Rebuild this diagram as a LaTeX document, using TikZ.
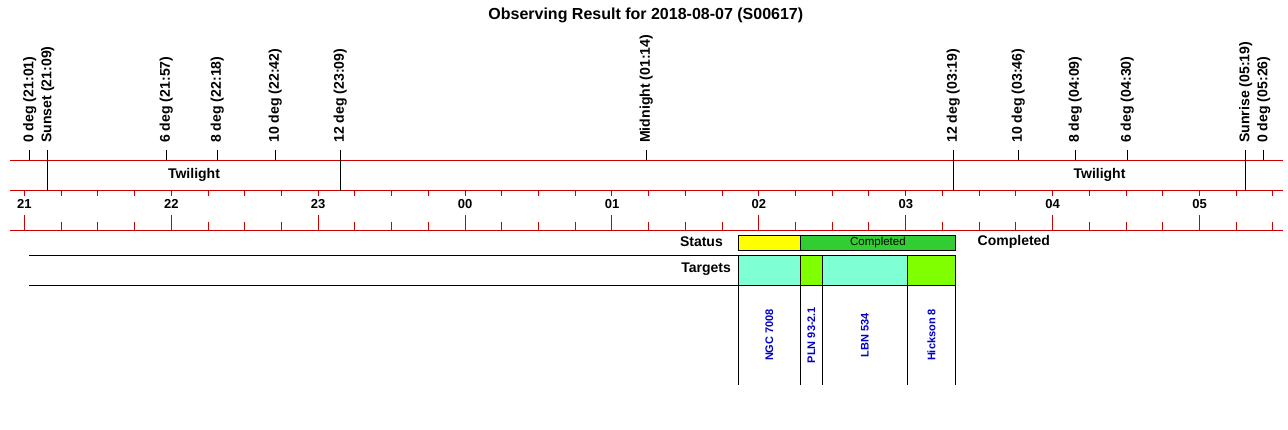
\documentclass[tikz,border=0pt]{standalone}
\usepackage{fontspec}
\setmainfont{Liberation Sans}
\definecolor{axisred}{RGB}{204,0,0}
\definecolor{statyellow}{RGB}{255,255,0}
\definecolor{statgreen}{RGB}{50,205,50}
\definecolor{tgaqua}{RGB}{127,255,212}
\definecolor{tgchart}{RGB}{127,255,0}
\definecolor{tgblue}{RGB}{0,0,205}
\begin{document}
\begin{tikzpicture}[x=1pt,y=-1pt,
  redline/.style={draw=axisred,line width=1pt},
  blackline/.style={draw=black,line width=1pt},
  evlabel/.style={rotate=90,anchor=west,inner sep=0pt,font=\fontsize{14.1}{16}\selectfont\bfseries},
  hourlabel/.style={inner sep=0pt,font=\fontsize{13}{15}\selectfont\bfseries},
  rowlabel/.style={inner sep=0pt,font=\fontsize{14}{16}\selectfont\bfseries},
  tglabel/.style={rotate=90,inner sep=0pt,text=tgblue,font=\fontsize{11}{13}\selectfont\bfseries},
  cellbox/.style={draw=black,line width=1pt}
]
\useasboundingbox (0,0) rectangle (1288,429);
\fill[white] (0,0) rectangle (1288,429);

% title
\node[inner sep=0pt,font=\fontsize{16}{18}\selectfont\bfseries] (title) at (645.8,15) {Observing Result for 2018-08-07 (S00617)};

% axis lines
\draw[redline] (10,160.3) -- (1283,160.3);
\draw[redline] (10,190.5) -- (1283,190.5);
\draw[redline] (10,230) -- (1283,230);

% quarter-hour ticks
\foreach \k in {0,...,34}{
  \pgfmathsetmacro{\tx}{24.4+36.72*\k}
  \draw[redline] (\tx,190.5) -- (\tx,195.5);
  \pgfmathtruncatemacro{\mk}{mod(\k,4)}
  \ifnum\mk=0
    \draw[redline] (\tx,215) -- (\tx,230);
  \else
    \draw[redline] (\tx,221.5) -- (\tx,230);
  \fi
}

% hour labels
\foreach \lab [count=\i from 0] in {21,22,23,00,01,02,03,04,05}{
  \node[hourlabel] (h\i) at ({24.4+146.9*\i},204) {\lab};
}

% event markers
\foreach \ex/\lab/\len [count=\i] in {
  29.7/0 deg (21:01)/160.3,
  47.7/Sunset (21:09)/190.5,
  166.3/6 deg (21:57)/160.3,
  217.3/8 deg (22:18)/160.3,
  275.3/10 deg (22:42)/160.3,
  340.3/12 deg (23:09)/190.5,
  646.3/Midnight (01:14)/160.3,
  953.3/12 deg (03:19)/190.5,
  1018.3/10 deg (03:46)/160.3,
  1075.3/8 deg (04:09)/160.3,
  1127.3/6 deg (04:30)/160.3,
  1245.7/Sunrise (05:19)/190.5,
  1263.7/0 deg (05:26)/160.3}{
  \coordinate (ev\i) at (\ex,150);
  \coordinate (evend\i) at (\ex,\len);
  \draw[blackline] (ev\i) -- (evend\i);
  \node[evlabel] (evl\i) at (\ex,143) {\lab};
}

\node[rowlabel] (tw1) at (194,175) {Twilight};
\node[rowlabel] (tw2) at (1099.5,175) {Twilight};

% status row
\node[rowlabel,anchor=east] (statuslab) at (723,242) {Status};
\draw[cellbox,fill=statyellow] (738.5,235.5) rectangle (800.3,250.3);
\draw[cellbox,fill=statgreen] (800.3,235.5) rectangle (955.5,250.3);
\node[inner sep=0pt,font=\fontsize{11.5}{13}\selectfont] (statin) at (877.9,243) {Completed};
\node[rowlabel,anchor=west] (statright) at (977.5,242) {Completed};

% targets row
\node[rowlabel,anchor=east] (targetslab) at (731,269) {Targets};
\draw[blackline] (29.3,255.5) -- (955.5,255.5);
\draw[blackline] (29.3,285.5) -- (955.5,285.5);
\draw[cellbox,fill=tgaqua] (738.5,255.5) rectangle (800.3,285.5);
\draw[cellbox,fill=tgchart] (800.3,255.5) rectangle (822.3,285.5);
\draw[cellbox,fill=tgaqua] (822.3,255.5) rectangle (907.3,285.5);
\draw[cellbox,fill=tgchart] (907.3,255.5) rectangle (955.5,285.5);
\foreach \vx in {738.5,800.3,822.3,907.3,955.5}{
  \draw[blackline] (\vx,285.5) -- (\vx,385);
}
\node[tglabel] (t1) at (769.4,335) {NGC 7008};
\node[tglabel] (t2) at (811.3,335) {PLN 93-2.1};
\node[tglabel] (t3) at (864.8,335) {LBN 534};
\node[tglabel] (t4) at (931.4,335) {Hickson 8};
\end{tikzpicture}
\end{document}
